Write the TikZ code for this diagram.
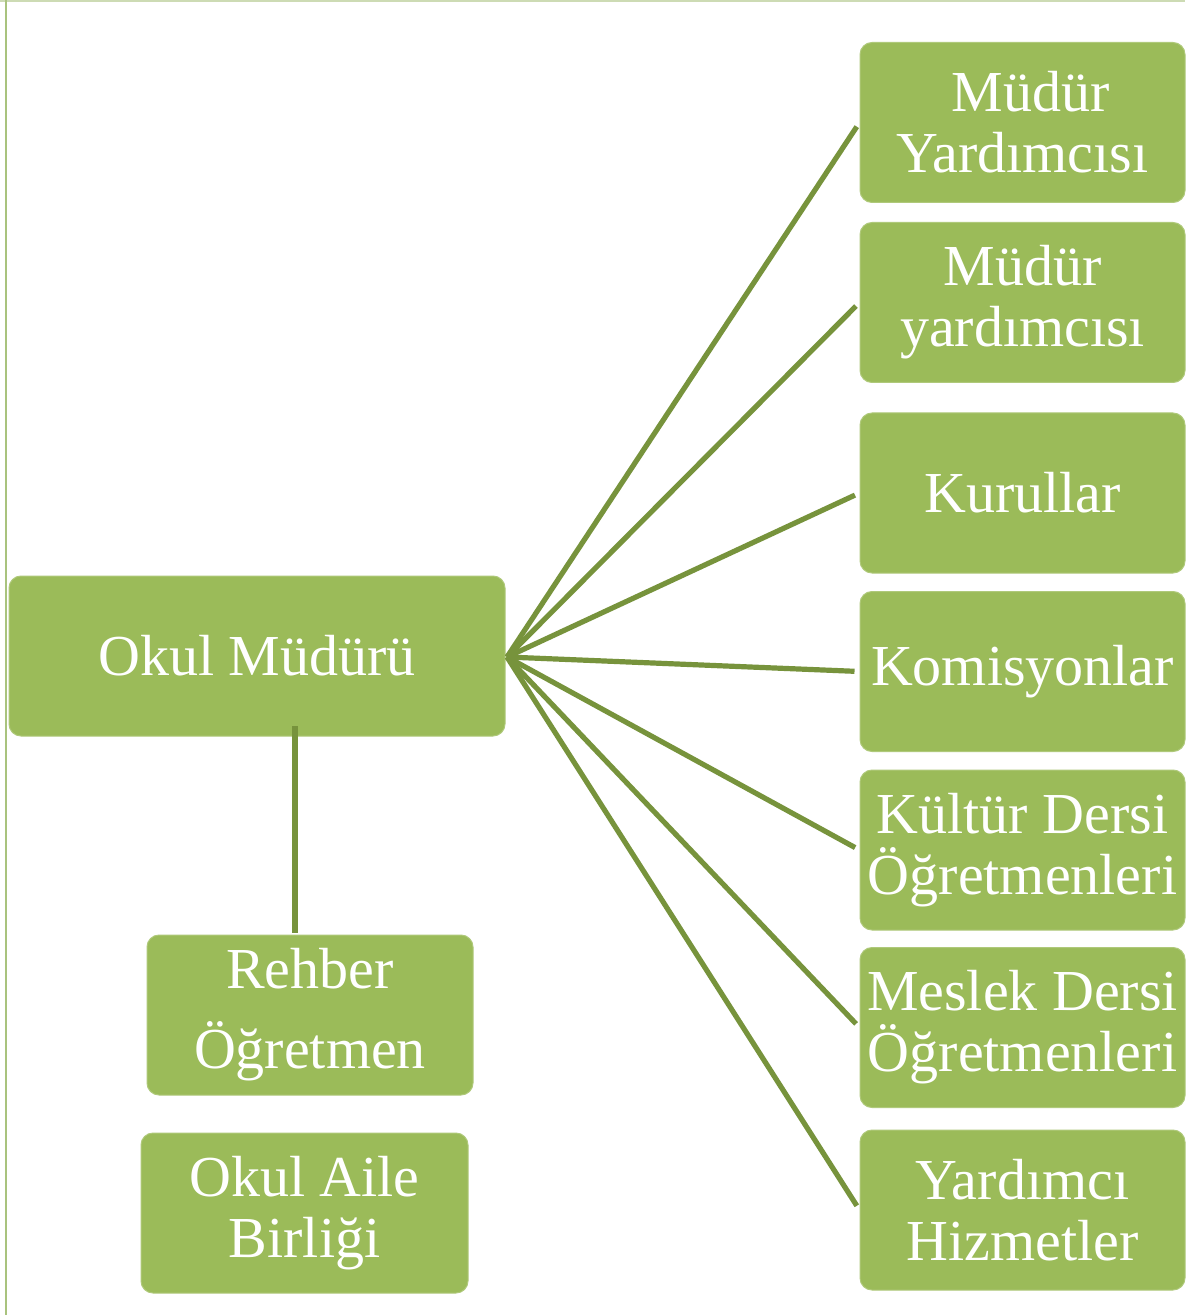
\documentclass[tikz,border=0pt]{standalone}
\usepackage{fontspec}
\setmainfont{Liberation Serif}
\definecolor{boxfill}{HTML}{9BBB59}
\definecolor{linkc}{HTML}{77933C}
\definecolor{frameL}{HTML}{A9C37E}
\definecolor{frameT}{HTML}{CDDBB4}
\begin{document}
\begin{tikzpicture}[x=0.5pt,y=-0.5pt,
  orgbox/.style={fill=boxfill, draw=boxfill!80!white, line width=0.5pt, rounded corners=6pt,
    text=white, align=center, inner sep=0pt, font=\fontsize{29pt}{30.5pt}\selectfont},
  rbox/.style={orgbox, minimum width=162.5pt, minimum height=80pt},
  link/.style={draw=linkc, line width=2.6pt}]
\useasboundingbox (0,0) rectangle (1185,1315);
\fill[white] (0,0) rectangle (1185,1315);
% frame
\draw[frameT, line width=1.2pt] (0,1) -- (1185,1);
\draw[frameL, line width=1.3pt] (6,0) -- (6,1315);
% nodes
\node[orgbox, minimum width=248pt, minimum height=80pt] (okul) at (257,656) {Okul Müdürü};
\node[rbox] (r1) at (1022.5,122.5) {\hspace*{8pt}Müdür\\Yardımcısı};
\node[rbox] (r2) at (1022.5,302.5) {Müdür\\yardımcısı};
\node[rbox] (r3) at (1022.5,493) {Kurullar};
\node[rbox] (r4) at (1022.5,671.5) {Komisyonlar};
\node[rbox] (r5) at (1022.5,850) {Kültür Dersi\\Öğretmenleri};
\node[rbox] (r6) at (1022.5,1027.5) {Meslek Dersi\\Öğretmenleri};
\node[rbox] (r7) at (1022.5,1210) {Yardımcı\\Hizmetler};
\node[orgbox, minimum width=163pt, minimum height=80pt, font=\fontsize{29pt}{40pt}\selectfont] (rehber) at (310,1015) {Rehber\\Öğretmen};
\node[orgbox, minimum width=163.5pt, minimum height=80pt] (aile) at (304.5,1213) {Okul Aile\\Birliği};
% connectors
\coordinate (hub) at (507,657);
\foreach \n in {r1,r2,r3,r4,r5,r6,r7}{
  \draw[link, shorten >=2.5pt] (hub) -- (\n.west);
}
\coordinate (vtop) at (295,726);
\draw[draw=linkc, line width=3pt, shorten >=1pt] (vtop) -- (vtop |- rehber.north);
\end{tikzpicture}
\end{document}
